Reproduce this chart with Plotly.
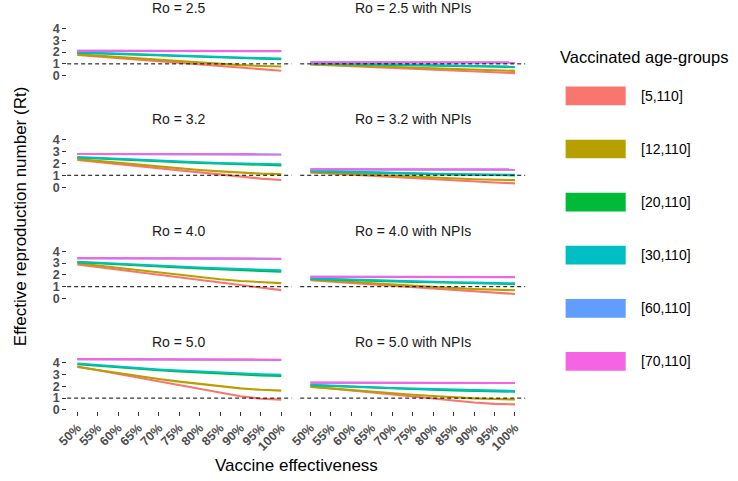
import plotly.graph_objects as go

# Vaccine effectiveness (%) on the x axis
effectiveness = [50, 55, 60, 65, 70, 75, 80, 85, 90, 95, 100]
x_ticktext = ["50%", "55%", "60%", "65%", "70%", "75%", "80%", "85%", "90%", "95%", "100%"]

age_groups = ["[5,110]", "[12,110]", "[20,110]", "[30,110]", "[60,110]", "[70,110]"]
group_colors = ["#F8766D", "#B79F00", "#00BA38", "#00BFC4", "#619CFF", "#F564E3"]

panel_titles = ["Ro = 2.5", "Ro = 2.5 with NPIs",
                "Ro = 3.2", "Ro = 3.2 with NPIs",
                "Ro = 4.0", "Ro = 4.0 with NPIs",
                "Ro = 5.0", "Ro = 5.0 with NPIs"]

# Rt per panel, one row per age group (same order as age_groups)
rt_25 = [
    [1.76, 1.62, 1.49, 1.35, 1.22, 1.08, 0.94, 0.80, 0.66, 0.53, 0.42],
    [1.80, 1.68, 1.56, 1.44, 1.32, 1.20, 1.09, 0.98, 0.89, 0.82, 0.78],
    [1.94, 1.88, 1.81, 1.75, 1.69, 1.63, 1.57, 1.52, 1.47, 1.42, 1.39],
    [1.97, 1.91, 1.85, 1.79, 1.73, 1.67, 1.62, 1.57, 1.52, 1.48, 1.45],
    [2.10, 2.10, 2.09, 2.09, 2.09, 2.08, 2.08, 2.08, 2.07, 2.07, 2.07],
    [2.11, 2.11, 2.10, 2.10, 2.10, 2.09, 2.09, 2.09, 2.08, 2.08, 2.08],
]
rt_25_npi = [
    [0.95, 0.87, 0.80, 0.73, 0.66, 0.58, 0.51, 0.43, 0.36, 0.29, 0.22],
    [0.97, 0.91, 0.84, 0.78, 0.71, 0.65, 0.59, 0.53, 0.48, 0.44, 0.41],
    [1.04, 1.01, 0.97, 0.93, 0.90, 0.86, 0.83, 0.80, 0.77, 0.75, 0.73],
    [1.06, 1.03, 1.00, 0.97, 0.93, 0.90, 0.87, 0.84, 0.82, 0.79, 0.77],
    [1.13, 1.13, 1.13, 1.13, 1.12, 1.12, 1.12, 1.12, 1.12, 1.11, 1.11],
    [1.14, 1.14, 1.14, 1.14, 1.13, 1.13, 1.13, 1.13, 1.13, 1.12, 1.12],
]
rt_32 = [
    [2.30, 2.12, 1.94, 1.76, 1.58, 1.40, 1.22, 1.05, 0.88, 0.72, 0.60],
    [2.36, 2.20, 2.04, 1.88, 1.73, 1.58, 1.45, 1.33, 1.22, 1.14, 1.10],
    [2.50, 2.41, 2.33, 2.25, 2.18, 2.11, 2.04, 1.98, 1.92, 1.87, 1.84],
    [2.53, 2.45, 2.37, 2.30, 2.23, 2.16, 2.10, 2.04, 1.99, 1.95, 1.93],
    [2.79, 2.79, 2.78, 2.78, 2.78, 2.77, 2.77, 2.77, 2.76, 2.76, 2.76],
    [2.80, 2.80, 2.79, 2.79, 2.79, 2.78, 2.78, 2.78, 2.77, 2.77, 2.77],
]
rt_32_npi = [
    [1.24, 1.14, 1.05, 0.95, 0.85, 0.76, 0.66, 0.57, 0.48, 0.39, 0.32],
    [1.27, 1.19, 1.10, 1.02, 0.93, 0.85, 0.78, 0.72, 0.66, 0.62, 0.59],
    [1.35, 1.30, 1.26, 1.22, 1.18, 1.14, 1.10, 1.07, 1.04, 1.01, 0.99],
    [1.37, 1.32, 1.28, 1.24, 1.20, 1.17, 1.13, 1.10, 1.08, 1.05, 1.04],
    [1.50, 1.50, 1.50, 1.49, 1.49, 1.49, 1.49, 1.49, 1.48, 1.48, 1.48],
    [1.51, 1.51, 1.51, 1.50, 1.50, 1.50, 1.50, 1.50, 1.49, 1.49, 1.49],
]
rt_40 = [
    [2.87, 2.65, 2.43, 2.21, 2.00, 1.79, 1.56, 1.32, 1.10, 0.88, 0.71],
    [2.98, 2.78, 2.58, 2.38, 2.18, 1.98, 1.80, 1.63, 1.48, 1.37, 1.30],
    [3.07, 2.97, 2.87, 2.78, 2.70, 2.62, 2.54, 2.46, 2.39, 2.32, 2.27],
    [3.11, 3.02, 2.93, 2.84, 2.76, 2.69, 2.62, 2.55, 2.48, 2.42, 2.38],
    [3.40, 3.40, 3.39, 3.39, 3.38, 3.38, 3.37, 3.37, 3.37, 3.36, 3.36],
    [3.41, 3.41, 3.40, 3.40, 3.39, 3.39, 3.38, 3.38, 3.38, 3.37, 3.37],
]
rt_40_npi = [
    [1.55, 1.43, 1.31, 1.19, 1.08, 0.97, 0.84, 0.71, 0.59, 0.48, 0.39],
    [1.61, 1.50, 1.39, 1.29, 1.18, 1.07, 0.97, 0.88, 0.80, 0.74, 0.70],
    [1.66, 1.60, 1.55, 1.50, 1.46, 1.41, 1.37, 1.33, 1.29, 1.25, 1.22],
    [1.68, 1.63, 1.58, 1.53, 1.49, 1.45, 1.41, 1.38, 1.34, 1.31, 1.28],
    [1.83, 1.83, 1.83, 1.82, 1.82, 1.82, 1.82, 1.81, 1.81, 1.81, 1.81],
    [1.84, 1.84, 1.84, 1.83, 1.83, 1.83, 1.83, 1.82, 1.82, 1.82, 1.82],
]
rt_50 = [
    [3.67, 3.35, 3.02, 2.71, 2.41, 2.10, 1.78, 1.46, 1.16, 0.95, 0.87],
    [3.62, 3.36, 3.10, 2.85, 2.61, 2.39, 2.18, 1.99, 1.82, 1.70, 1.63],
    [3.86, 3.72, 3.58, 3.46, 3.35, 3.25, 3.15, 3.06, 2.98, 2.91, 2.86],
    [3.92, 3.78, 3.64, 3.52, 3.42, 3.33, 3.24, 3.15, 3.08, 3.02, 2.97],
    [4.28, 4.27, 4.27, 4.26, 4.26, 4.25, 4.25, 4.24, 4.24, 4.23, 4.23],
    [4.29, 4.28, 4.28, 4.27, 4.27, 4.26, 4.26, 4.25, 4.25, 4.24, 4.24],
]
rt_50_npi = [
    [1.98, 1.81, 1.63, 1.46, 1.30, 1.13, 0.96, 0.79, 0.63, 0.51, 0.47],
    [1.95, 1.81, 1.67, 1.54, 1.41, 1.29, 1.18, 1.07, 0.98, 0.92, 0.88],
    [2.08, 2.01, 1.93, 1.87, 1.81, 1.76, 1.70, 1.65, 1.61, 1.57, 1.54],
    [2.12, 2.04, 1.97, 1.90, 1.85, 1.80, 1.75, 1.70, 1.66, 1.63, 1.60],
    [2.30, 2.30, 2.29, 2.29, 2.29, 2.29, 2.28, 2.28, 2.28, 2.28, 2.27],
    [2.31, 2.31, 2.30, 2.30, 2.30, 2.30, 2.29, 2.29, 2.29, 2.29, 2.28],
]

panels = [rt_25, rt_25_npi, rt_32, rt_32_npi, rt_40, rt_40_npi, rt_50, rt_50_npi]

W, H = 738, 481


def fx(p):
    # page pixel -> paper x
    return p / W


def fy(p):
    # page pixel (from top) -> paper y
    return 1 - p / H


col_px = [(57, 284.7), (293.6, 522)]
row_top, row_bottom, row_step = 22.0, 76.7, 113.3

tick_font = dict(family="Liberation Sans", size=12.5, color="#4D4D4D", weight="bold")

fig = go.Figure()
layout = dict(
    width=W, height=H,
    margin=dict(l=0, r=0, t=0, b=0),
    paper_bgcolor="white", plot_bgcolor="white",
    showlegend=False,
    font=dict(family="Liberation Sans", color="#1A1A1A"),
    shapes=[], annotations=[],
)

for k, data in enumerate(panels):
    row, col = divmod(k, 2)
    n = "" if k == 0 else str(k + 1)
    x0, x1 = col_px[col]
    top = row_top + row * row_step
    bottom = row_bottom + row * row_step

    for g, vals in enumerate(data):
        fig.add_trace(go.Scatter(
            x=effectiveness, y=vals, mode="lines",
            line=dict(color=group_colors[g], width=2.1),
            name=age_groups[g], xaxis="x" + n, yaxis="y" + n,
            hoverinfo="skip",
        ))

    bottom_row = row == 3
    layout["xaxis" + n] = dict(
        domain=[fx(x0), fx(x1)], anchor="y" + n,
        range=[47.5, 102.5], showgrid=False, zeroline=False, showline=False,
        tickmode="array", tickvals=effectiveness, ticktext=x_ticktext,
        showticklabels=bottom_row, ticks="outside" if bottom_row else "",
        ticklen=4, tickwidth=1.3, tickcolor="#333333",
        tickangle=-45, tickfont=tick_font,
    )
    layout["yaxis" + n] = dict(
        domain=[fy(bottom), fy(top)], anchor="x" + n,
        range=[-0.06, 4.48], showgrid=False, zeroline=False, showline=False,
        tickmode="array", tickvals=[0, 1, 2, 3, 4],
        showticklabels=col == 0, ticks="outside" if col == 0 else "",
        ticklen=4, tickwidth=1.3, tickcolor="#333333", tickfont=tick_font,
    )
    # reference line at Rt = 1
    layout["shapes"].append(dict(
        type="line", xref="x" + n + " domain", x0=0, x1=1,
        yref="y" + n, y0=1, y1=1,
        line=dict(color="black", width=1, dash="4px,3px"),
    ))
    # facet strip title
    layout["annotations"].append(dict(
        text=panel_titles[k], xref="paper", yref="paper",
        x=fx((x0 + x1) / 2), y=fy(7.2 + row * row_step),
        xanchor="center", yanchor="middle", showarrow=False,
        font=dict(size=14, color="#1A1A1A"),
    ))

# axis titles
layout["annotations"].append(dict(
    text="Vaccine effectiveness", xref="paper", yref="paper",
    x=fx(290), y=fy(472), xanchor="center", yanchor="middle",
    showarrow=False, font=dict(size=17, color="black"),
))
layout["annotations"].append(dict(
    text="Effective reproduction number (Rt)", xref="paper", yref="paper",
    x=fx(10), y=fy(219), xanchor="center", yanchor="middle",
    textangle=-90, showarrow=False, font=dict(size=17, color="black"),
))

# legend drawn as ggplot-style keys
layout["annotations"].append(dict(
    text="Vaccinated age-groups", xref="paper", yref="paper",
    x=fx(555), y=fy(57), xanchor="left", yanchor="middle",
    showarrow=False, font=dict(size=16.5, color="black"),
))
for g, label in enumerate(age_groups):
    ky = 87 + 54 * g
    layout["shapes"].append(dict(
        type="rect", xref="paper", yref="paper",
        x0=fx(563), x1=fx(624), y0=fy(ky + 19), y1=fy(ky),
        fillcolor=group_colors[g], line=dict(width=0),
    ))
    layout["annotations"].append(dict(
        text=label, xref="paper", yref="paper",
        x=fx(638), y=fy(ky + 9.5), xanchor="left", yanchor="middle",
        showarrow=False, font=dict(size=14, color="black"),
    ))

fig.update_layout(**layout)

# drop the default 8px body margin so the figure fills the window exactly
fig.write_html("out.html", config={"displayModeBar": False},
               post_script="document.body.style.margin='0';")
